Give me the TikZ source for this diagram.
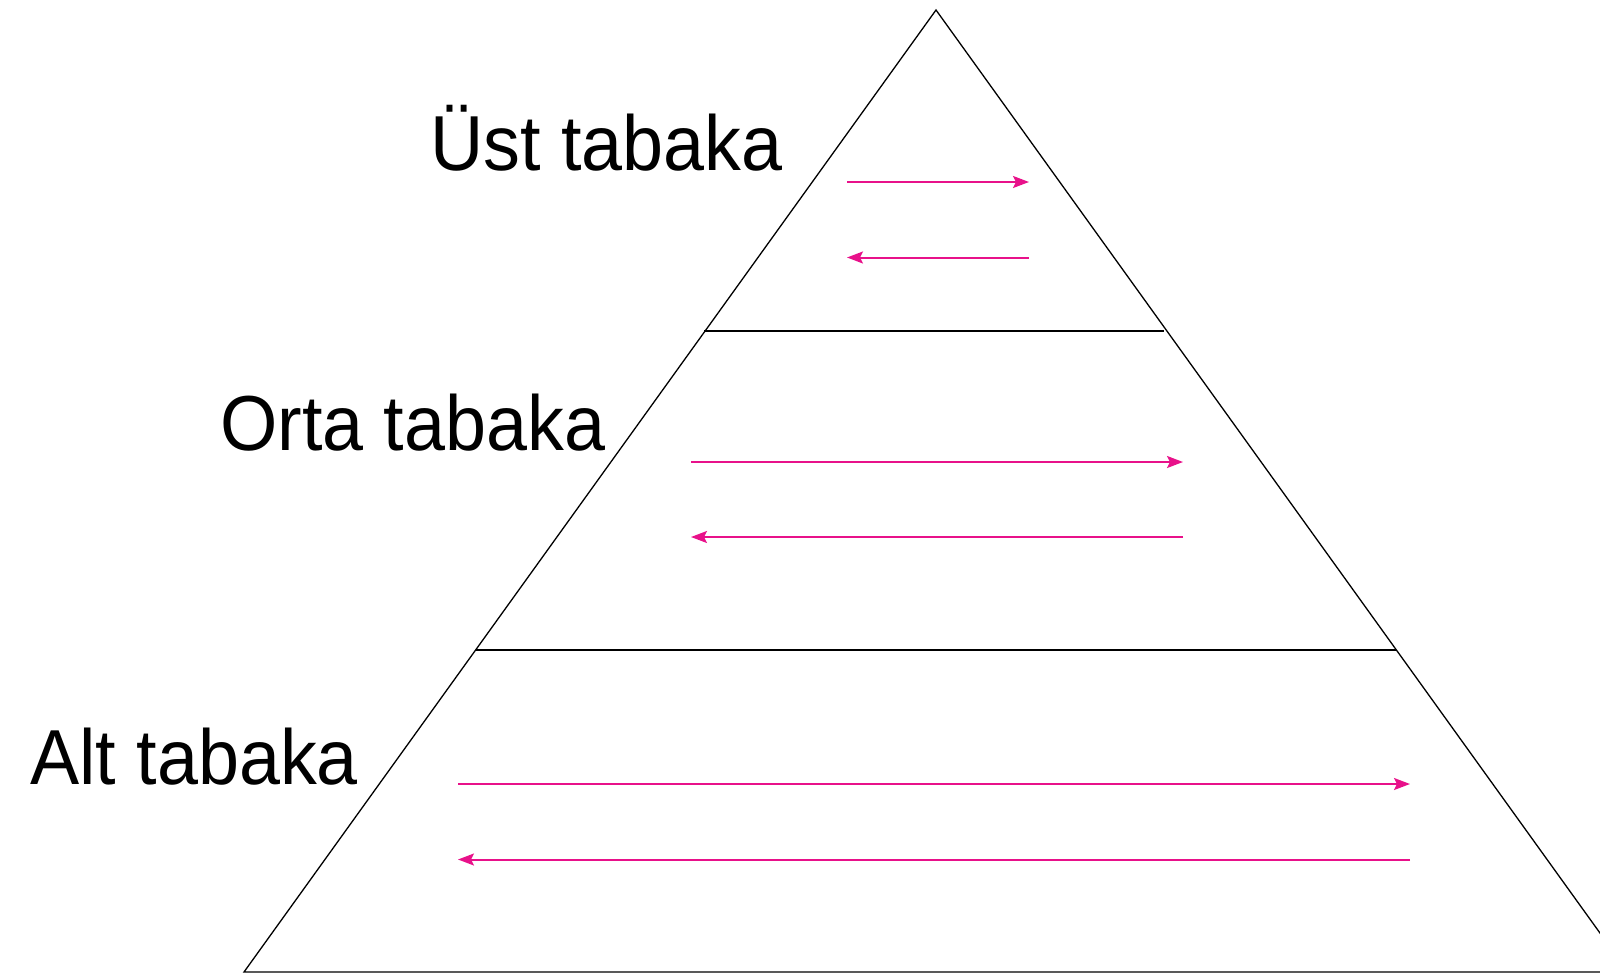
\documentclass[tikz,border=0pt]{standalone}
\usepackage{fontspec}
\setmainfont{Liberation Sans}[FakeStretch=0.945]
\usetikzlibrary{arrows.meta}
\definecolor{arrowpink}{HTML}{E8118A}
\tikzset{
  edge/.style={draw=black, line width=1.3pt, line join=miter},
  flow/.style={draw=arrowpink, line width=2pt, -{Stealth[length=16pt,width=12pt,inset=3pt]}},
  label/.style={anchor=base west, inner sep=0pt, font=\fontsize{78}{90}\selectfont, text=black}
}
\begin{document}
\begin{tikzpicture}[x=1pt,y=-1pt]
\useasboundingbox (0,0) rectangle (1600,977);
\clip (0,0) rectangle (1600,977);
\coordinate (apex) at (936,10);
\coordinate (bl) at (244,972);
\coordinate (br) at (1628,972);
\coordinate (d1l) at (704,331);
\coordinate (d1r) at (1164,331);
\coordinate (d2l) at (476,650);
\coordinate (d2r) at (1396,650);
\draw[edge] (apex) -- (br) -- (bl) -- cycle;
\draw[edge] (d1l) -- (d1r);
\draw[edge] (d2l) -- (d2r);
% arrows
\coordinate (t1a) at (847,182);
\coordinate (t1b) at (1029,182);
\coordinate (t2a) at (1029,257.5);
\coordinate (t2b) at (847,257.5);
\coordinate (m1a) at (691,462);
\coordinate (m1b) at (1183,462);
\coordinate (m2a) at (1183,537);
\coordinate (m2b) at (691,537);
\coordinate (b1a) at (458,784);
\coordinate (b1b) at (1410,784);
\coordinate (b2a) at (1410,859.5);
\coordinate (b2b) at (458,859.5);
\draw[flow] (t1a) -- (t1b);
\draw[flow] (t2a) -- (t2b);
\draw[flow] (m1a) -- (m1b);
\draw[flow] (m2a) -- (m2b);
\draw[flow] (b1a) -- (b1b);
\draw[flow] (b2a) -- (b2b);
% labels
\node[label] (ust) at (430,170) {Üst tabaka};
\node[label] (orta) at (220,450) {Orta tabaka};
\node[label] (alt) at (30,784) {Alt tabaka};
\end{tikzpicture}
\end{document}
